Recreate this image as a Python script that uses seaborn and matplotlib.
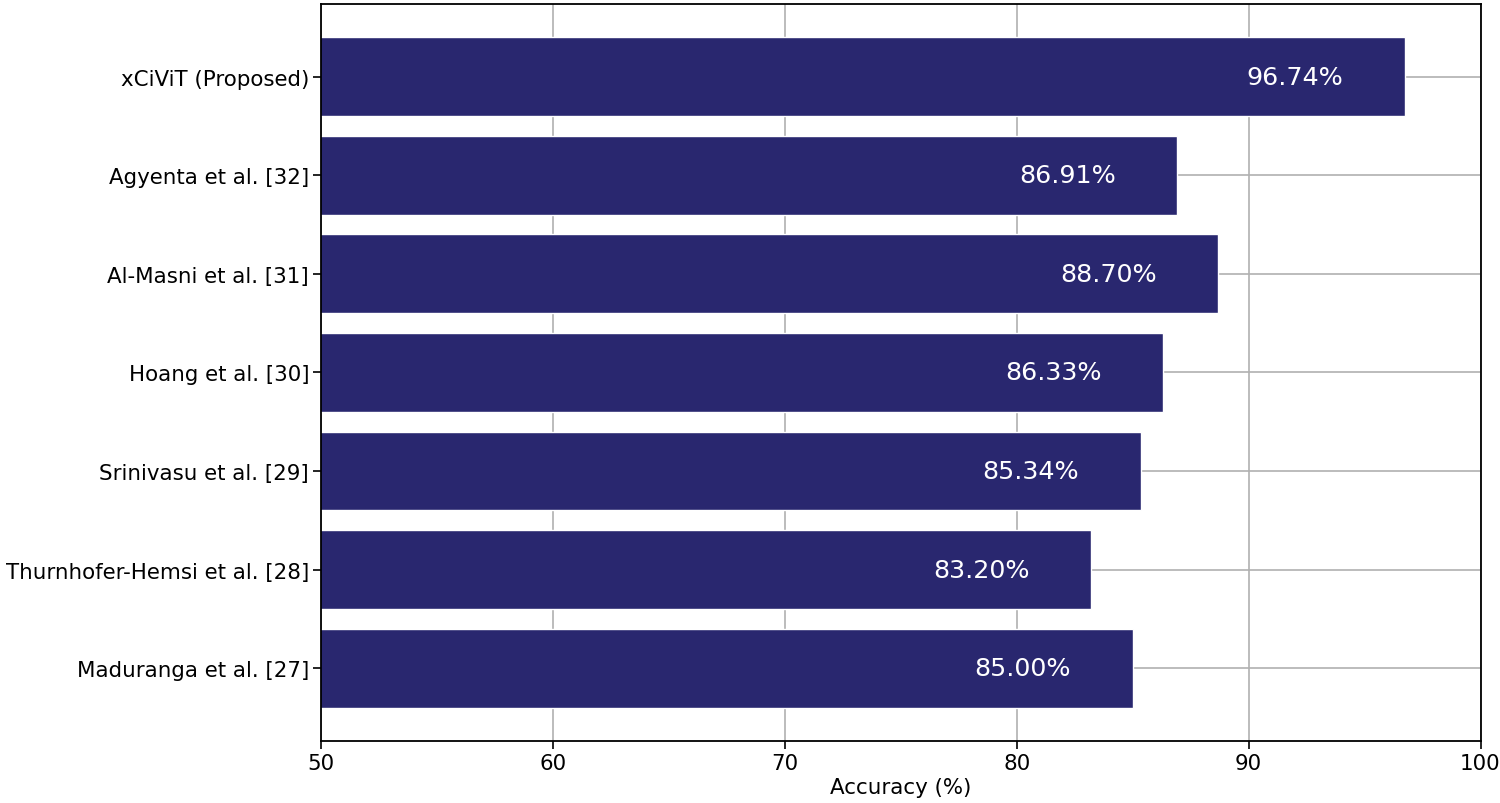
import pandas as pd
import matplotlib
matplotlib.use("Agg")
import matplotlib.pyplot as plt
import seaborn as sns

methods = [
    "xCiViT (Proposed)",
    "Agyenta et al. [32]",
    "Al-Masni et al. [31]",
    "Hoang et al. [30]",
    "Srinivasu et al. [29]",
    "Thurnhofer-Hemsi et al. [28]",
    "Maduranga et al. [27]",
]
accuracy = [96.74, 86.91, 88.70, 86.33, 85.34, 83.20, 85.00]
x_ticks = [50, 60, 70, 80, 90, 100]

df = pd.DataFrame({"method": methods, "accuracy": accuracy})

sns.set_theme(style="ticks")
plt.rcParams["font.family"] = ["DejaVu Sans"]
plt.rcParams["text.color"] = "black"
plt.rcParams["axes.labelcolor"] = "black"
plt.rcParams["xtick.color"] = "black"
plt.rcParams["ytick.color"] = "black"

fig, ax = plt.subplots(figsize=(15, 8.04), dpi=100)
fig.subplots_adjust(left=0.214, right=0.987, top=0.994, bottom=0.077)

sns.barplot(data=df, x="accuracy", y="method", orient="h", color="#29276f",
            saturation=1, width=0.8, ax=ax)

# value labels sit inside the bar, a bit before its end
for i, v in enumerate(accuracy):
    ax.text(v - 4.73, i, f"{v:.2f}%", ha="center", va="center", color="white", fontsize=18.3)

ax.set_xlim(50, 100)
ax.set_ylim(len(methods) - 1 + 0.74, -0.74)
ax.set_xticks(x_ticks)
ax.set_xlabel("Accuracy (%)", fontsize=15.4, labelpad=3)
ax.set_ylabel("")
ax.tick_params(axis="both", labelsize=15.4, colors="black", length=6, width=1.2, pad=2.5)
ax.grid(True, color="#b0b0b0", linewidth=1.2)
ax.set_axisbelow(True)
for s in ax.spines.values():
    s.set_color("black")
    s.set_linewidth(1.3)

fig.savefig("out.png", dpi=100)
